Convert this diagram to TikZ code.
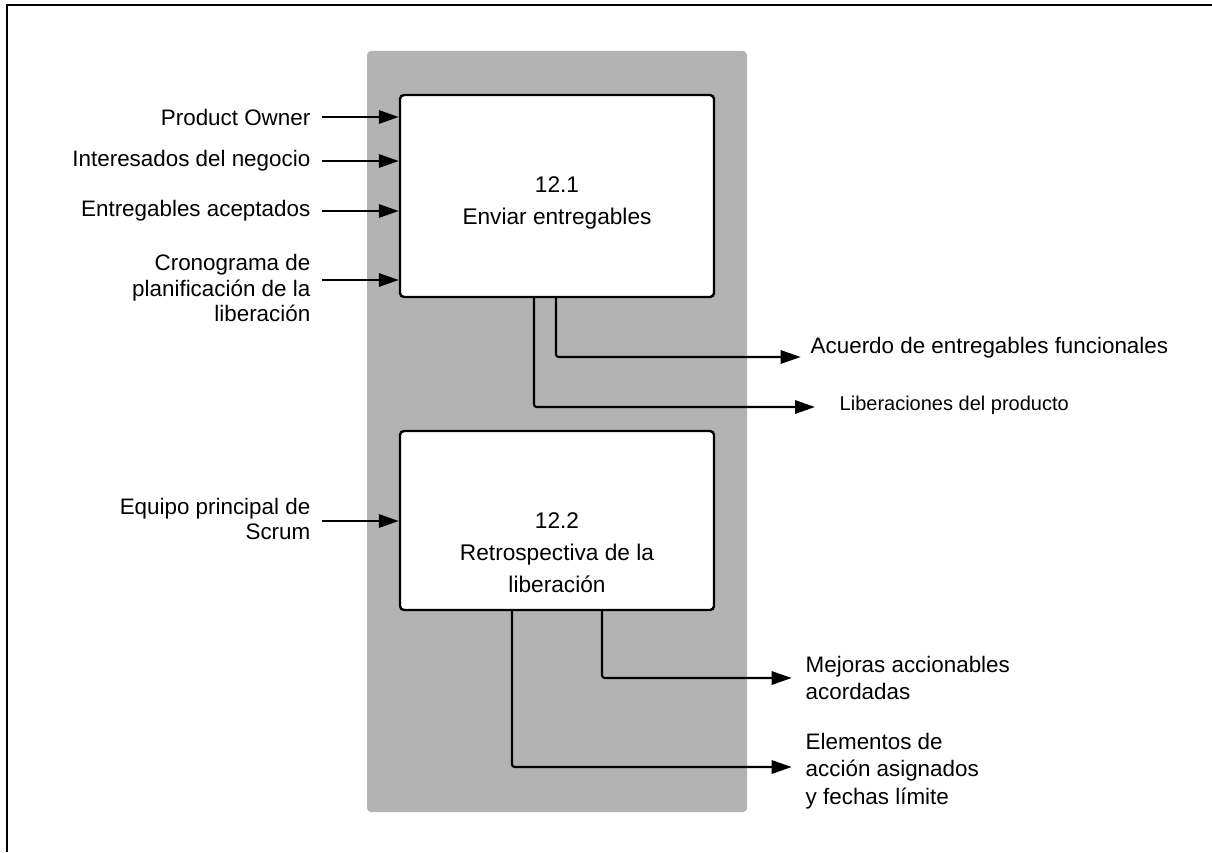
\documentclass[tikz,border=0pt]{standalone}
\usepackage{fontspec}
\setmainfont{Liberation Sans}
\usetikzlibrary{arrows.meta, positioning}
\definecolor{panelgray}{RGB}{179,179,179}

\begin{document}
\begin{tikzpicture}[
        x=0.75pt, y=-0.75pt,
        panel/.style={rectangle, rounded corners=3pt, fill=panelgray, minimum width=285pt, minimum height=570.75pt},
        process/.style={rectangle, rounded corners=3pt, draw=black, fill=white, line width=1.8pt, minimum width=235.5pt},
        title/.style={align=center, font=\fontsize{17}{24}\selectfont},
        inlabel/.style={anchor=east, align=right, font=\fontsize{16.8}{19}\selectfont},
        outlabel/.style={anchor=west, align=left, font=\fontsize{16.8}{20.5}\selectfont},
        flow/.style={-{Triangle[length=15pt, width=10pt]}, line width=1.6pt, rounded corners=2pt}
    ]
        \useasboundingbox (0,0) rectangle (1212,852);
        % page frame
        \draw[line width=2.2pt] (1212,5) -- (7,5) -- (7,852);

        % gray band behind both steps
        \node[panel] (band) at (557,431.5) {};

        % the two steps
        \node[process, minimum height=151.5pt] (send) at (557,196) {};
        \node[title] (sendtitle) at ([yshift=-5pt]send.center) {12.1\\Enviar entregables};

        \node[process, minimum height=134.25pt] (retro) at (557,520.5) {};
        \node[title] (retrotitle) at ([yshift=-24pt]retro.center) {12.2\\Retrospectiva de la\\liberación};

        % inputs
        \node[inlabel] (owner) at (315,117) {Product Owner};
        \node[inlabel] (stake) at (315,161) {Interesados del negocio};
        \node[inlabel] (accepted) at (315,211) {Entregables aceptados};
        \node[inlabel] (schedule) at (315,288) {Cronograma de\\planificación de la\\liberación};
        \node[inlabel] (team) at (315,519) {Equipo principal de\\Scrum};

        \draw[flow] ([xshift=5pt]owner.east) -- (owner.east -| send.west);
        \draw[flow] ([xshift=5pt]stake.east) -- (stake.east -| send.west);
        \draw[flow] ([xshift=5pt]accepted.east) -- (accepted.east -| send.west);
        \draw[flow] ([xshift=5pt, yshift=6pt]schedule.east) -- ([yshift=6pt]schedule.east -| send.west);
        \draw[flow] ([xshift=5pt, yshift=-1.5pt]team.east) -- ([yshift=-1.5pt]team.east -| retro.west);

        % outputs
        \node[outlabel] (agree) at (806,348) {Acuerdo de entregables funcionales};
        \node[outlabel, font=\fontsize{15}{18}\selectfont] (releases) at (835,405) {Liberaciones del producto};
        \node[outlabel] (improve) at (801,678) {Mejoras accionables\\acordadas};
        \node[outlabel] (actions) at (801,771) {Elementos de\\acción asignados\\y fechas límite};

        \coordinate (agreebend) at (556,357);
        \coordinate (releasebend) at (534,407);
        \coordinate (improvebend) at (602,678);
        \coordinate (actionbend) at (512,767);

        \draw[flow] (send.south -| agreebend) |- ([xshift=-4pt]agree.west |- agreebend);
        \draw[flow] (send.south -| releasebend) |- ([xshift=-15pt]releases.west |- releasebend);
        \draw[flow] (retro.south -| improvebend) |- ([xshift=-7pt]improve.west |- improvebend);
        \draw[flow] (retro.south -| actionbend) |- ([xshift=-7pt]actions.west |- actionbend);

    \end{tikzpicture}
\end{document}
